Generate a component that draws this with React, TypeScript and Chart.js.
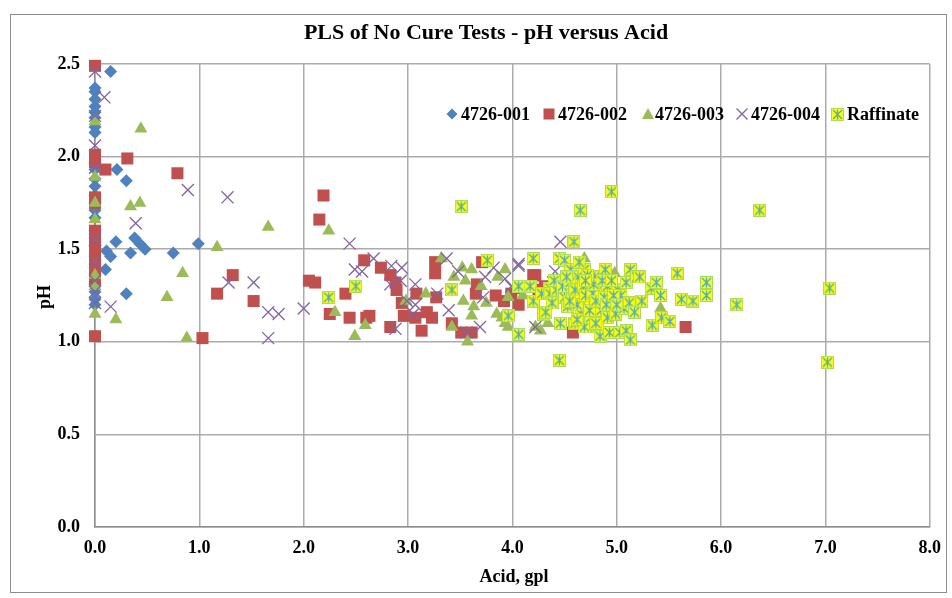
import React, { useEffect, useRef } from 'react';
import { Chart, registerables } from 'chart.js';

Chart.register(...registerables);

// ---------- data ----------
const seriesNames = ['4726-001', '4726-002', '4726-003', '4726-004', 'Raffinate'];
const xTickValues = [0, 1, 2, 3, 4, 5, 6, 7, 8];
const yTickValues = [0, 0.5, 1, 1.5, 2, 2.5];

const acid001 = [0, 0, 0, 0, 0, 0, 0, 0, 0, 0, 0, 0, 0, 0, 0, 0, 0, 0, 0, 0, 0, 0, 0, 0, 0, 0,
  0.15, 0.21, 0.3, 0.2, 0.11, 0.15, 0.1, 0.34, 0.38, 0.43, 0.48, 0.3, 0.75, 0.99];
const ph001 = [2.37, 2.35, 2.31, 2.27, 2.24, 2.21, 2.16, 2.13, 1.96, 1.93, 1.88, 1.84, 1.79, 1.75, 1.71, 1.67, 1.6, 1.56, 1.52, 1.47, 1.42, 1.37, 1.31, 1.27, 1.23, 1.2,
  2.46, 1.93, 1.87, 1.54, 1.49, 1.46, 1.39, 1.48, 1.56, 1.53, 1.5, 1.26, 1.48, 1.53];

const acid002 = [0, 0, 0, 0, 0, 0, 0, 0, 0, 0, 0, 0, 0,
  0.1, 0.31, 0.79, 1.03, 1.17, 1.32, 1.52,
  2.05, 2.11, 2.15, 2.19, 2.25, 2.4, 2.44, 2.58, 2.6, 2.63, 2.74, 2.83, 2.83, 2.88, 2.89, 2.94, 2.96, 3.07, 3.08, 3.13, 3.18, 3.23, 3.26, 3.26, 3.27, 3.42, 3.51, 3.61, 3.65, 3.66, 3.71, 3.84, 3.92, 3.99, 4.06, 4.06, 4.18, 4.2, 4.22, 4.25, 4.31, 4.42, 4.58, 5.66];
const ph002 = [2.49, 2.01, 1.97, 1.78, 1.75, 1.6, 1.56, 1.5, 1.46, 1.42, 1.38, 1.34, 1.03,
  1.93, 1.99, 1.91, 1.02, 1.26, 1.36, 1.22,
  1.33, 1.32, 1.66, 1.79, 1.15, 1.26, 1.13, 1.44, 1.13, 1.14, 1.4, 1.36, 1.08, 1.32, 1.28, 1.21, 1.14, 1.13, 1.26, 1.06, 1.16, 1.13, 1.43, 1.37, 1.24, 1.1, 1.05, 1.05, 1.26, 1.31, 1.43, 1.25, 1.22, 1.26, 1.29, 1.2, 1.3, 1.36, 1.36, 1.28, 1.3, 1.33, 1.05, 1.08];

const acid003 = [0, 0, 0, 0, 0, 0, 0, 0.44, 0.34, 0.43, 0.2, 0.69, 0.84, 0.88, 1.17, 1.66, 2.24, 2.3, 2.49, 2.59,
  2.98, 3.17, 3.32, 3.44, 3.52, 3.61, 3.42, 3.53, 3.57, 3.63, 3.61, 3.75, 3.85, 3.86, 3.93, 3.96, 3.96, 4.22, 4.27, 4.34, 4.69, 4.98, 5.42, 3.93, 3.9, 3.7, 3.55, 4.1];
const ph003 = [2.19, 1.89, 1.75, 1.66, 1.36, 1.3, 1.15, 2.15, 1.73, 1.75, 1.12, 1.24, 1.37, 1.02, 1.51, 1.62, 1.6, 1.16, 1.03, 1.09,
  1.22, 1.26, 1.45, 1.35, 1.4, 1.39, 1.08, 1.22, 1.0, 1.19, 1.14, 1.21, 1.15, 1.35, 1.39, 1.08, 1.24, 1.08, 1.06, 1.1, 1.45, 1.37, 1.18, 1.1, 1.13, 1.3, 1.33, 1.25];

const acid004 = [0, 0, 0, 0, 0, 0, 0, 0, 0, 0.09, 0.15, 0.39, 0.89, 1.27, 1.28, 1.52, 1.66, 1.76, 1.66, 2.0,
  2.44, 2.49, 2.56, 2.67, 2.84, 2.94, 2.83, 2.93, 3.07, 2.99, 3.07, 2.88, 3.05, 3.28, 3.37, 3.39, 3.48, 3.56, 3.69, 3.74, 3.82, 3.93, 4.06, 3.72, 3.99, 4.22, 4.46, 4.06, 4.41, 4.39];
const ph004 = [2.46, 2.22, 2.06, 1.94, 1.55, 1.43, 1.33, 1.27, 1.21, 2.32, 1.19, 1.64, 1.82, 1.78, 1.32, 1.32, 1.16, 1.15, 1.02, 1.18,
  1.53, 1.39, 1.38, 1.45, 1.41, 1.4, 1.31, 1.33, 1.31, 1.22, 1.2, 1.07, 1.15, 1.26, 1.45, 1.17, 1.38, 1.05, 1.08, 1.35, 1.4, 1.34, 1.41, 1.24, 1.3, 1.08, 1.54, 1.42, 1.38, 1.32];

const acidRaff = [2.24, 2.5, 3.42, 3.51, 3.76, 3.96, 4.06, 4.06, 4.17, 4.2, 4.2, 4.28, 4.3, 4.32, 4.36, 4.36, 4.42, 4.45, 4.45, 4.46,
  4.5, 4.5, 4.53, 4.56, 4.58, 4.59, 4.6, 4.63, 4.65, 4.66, 4.66, 4.69, 4.69, 4.72, 4.75, 4.75, 4.79, 4.82, 4.82, 4.84,
  4.85, 4.89, 4.91, 4.91, 4.93, 4.95, 4.99, 5.01, 5.03, 5.04, 5.07, 5.09, 5.09, 5.12, 5.13, 5.13, 5.17, 5.19, 5.22, 5.24,
  5.33, 5.34, 5.38, 5.42, 5.43, 5.51, 5.58, 5.62, 5.73, 5.86, 5.86, 6.15, 6.37, 7.04, 7.02,
  4.4, 4.48, 4.55, 4.6, 4.62, 4.68, 4.7, 4.72, 4.74, 4.77, 4.78, 4.8, 4.86, 4.88, 4.9, 4.95, 4.97, 5.0, 4.55, 4.52,
  4.64, 4.7, 4.38, 4.62, 4.8];
const phRaff = [1.24, 1.3, 1.28, 1.73, 1.44, 1.14, 1.04, 1.3, 1.3, 1.45, 1.22, 1.26, 1.15, 1.16, 1.29, 1.26, 1.28, 0.9, 1.45, 1.1,
  1.44, 1.24, 1.19, 1.39, 1.26, 1.54, 1.1, 1.35, 1.71, 1.24, 1.15, 1.39, 1.08, 1.3, 1.21, 1.13, 1.35, 1.28, 1.08, 1.03,
  1.17, 1.39, 1.3, 1.13, 1.05, 1.81, 1.15, 1.28, 1.05, 1.25, 1.18, 1.32, 1.06, 1.21, 1.39, 1.01, 1.16, 1.35, 1.35, 1.22,
  1.29, 1.09, 1.32, 1.25, 1.13, 1.11, 1.37, 1.23, 1.22, 1.32, 1.25, 1.2, 1.71, 1.29, 0.89,
  1.33, 1.3, 1.32, 1.28, 1.2, 1.3, 1.25, 1.36, 1.17, 1.26, 1.31, 1.22, 1.33, 1.24, 1.2, 1.33, 1.25, 1.2, 1.22, 1.35,
  1.43, 1.33, 1.21, 1.12, 1.1];

const COLORS = ['#4F81BD', '#C0504D', '#9BBB59', '#8064A2', '#FFFF00'];
const STAR_COLOR = '#4BACC6';
const FONT = '"Liberation Serif", "Times New Roman", serif';

function pts(xs: number[], ys: number[]) {
  return xs.map((x, i) => ({ x, y: ys[i] }));
}

function makeRaffMarker(size: number): HTMLCanvasElement {
  const c = document.createElement('canvas');
  c.width = size;
  c.height = size;
  const g = c.getContext('2d')!;
  g.fillStyle = '#FFFF00';
  g.fillRect(0, 0, size, size);
  g.strokeStyle = 'rgba(75,172,198,0.45)';
  g.lineWidth = 1;
  g.strokeRect(0.5, 0.5, size - 1, size - 1);
  g.strokeStyle = STAR_COLOR;
  g.lineWidth = 1.3;
  const m = size / 2;
  g.beginPath();
  g.moveTo(m, 1.5); g.lineTo(m, size - 1.5);
  g.moveTo(2, 2); g.lineTo(size - 2, size - 2);
  g.moveTo(size - 2, 2); g.lineTo(2, size - 2);
  g.stroke();
  return c;
}

export default function App() {
  const ref = useRef<HTMLCanvasElement>(null);

  useEffect(() => {
    const canvas = ref.current!;
    const raff = makeRaffMarker(13);

    const drawLegendMarker = (ctx: CanvasRenderingContext2D, i: number, x: number, y: number) => {
      ctx.save();
      if (i === 0) {
        ctx.fillStyle = COLORS[0];
        ctx.beginPath();
        ctx.moveTo(x, y - 5.5); ctx.lineTo(x + 5.5, y); ctx.lineTo(x, y + 5.5); ctx.lineTo(x - 5.5, y);
        ctx.closePath(); ctx.fill();
      } else if (i === 1) {
        ctx.fillStyle = COLORS[1];
        ctx.fillRect(x - 5.5, y - 5.5, 11, 11);
      } else if (i === 2) {
        ctx.fillStyle = COLORS[2];
        ctx.beginPath();
        ctx.moveTo(x, y - 6); ctx.lineTo(x + 6, y + 5); ctx.lineTo(x - 6, y + 5);
        ctx.closePath(); ctx.fill();
      } else if (i === 3) {
        ctx.strokeStyle = COLORS[3];
        ctx.lineWidth = 1.3;
        ctx.beginPath();
        ctx.moveTo(x - 5.5, y - 5.5); ctx.lineTo(x + 5.5, y + 5.5);
        ctx.moveTo(x + 5.5, y - 5.5); ctx.lineTo(x - 5.5, y + 5.5);
        ctx.stroke();
      } else {
        ctx.drawImage(raff, Math.round(x - 6.5), Math.round(y - 6.5));
      }
      ctx.restore();
    };

    const decor = {
      id: 'decor',
      afterDraw(chart: any) {
        const ctx: CanvasRenderingContext2D = chart.ctx;
        ctx.save();
        // outer chart border
        ctx.strokeStyle = '#8c8c8c';
        ctx.lineWidth = 1;
        ctx.strokeRect(10.5, 14.5, 936, 578);
        // title
        ctx.fillStyle = '#000';
        ctx.textAlign = 'center';
        ctx.textBaseline = 'middle';
        ctx.font = `bold 22px ${FONT}`;
        ctx.fillText('PLS of No Cure Tests - pH versus Acid', 486, 33);
        // axis titles
        ctx.font = `bold 18px ${FONT}`;
        ctx.fillText('Acid, gpl', 514, 577);
        ctx.save();
        ctx.translate(45, 297);
        ctx.rotate(-Math.PI / 2);
        ctx.fillText('pH', 0, 0);
        ctx.restore();
        // legend
        const markerX = [452, 549, 648, 742, 837];
        const textX = [461, 558, 655, 751, 847];
        const ly = 114;
        ctx.textAlign = 'left';
        ctx.font = `bold 18px ${FONT}`;
        for (let i = 0; i < seriesNames.length; i++) {
          drawLegendMarker(ctx, i, markerX[i], ly);
          ctx.fillStyle = '#000';
          ctx.fillText(seriesNames[i], textX[i], ly + 1);
        }
        ctx.restore();
      },
    };

    const tickFont = { family: FONT, size: 18, weight: 'bold' as const };

    const chart = new Chart(canvas, {
      type: 'scatter',
      data: {
        datasets: [
          {
            label: seriesNames[0], data: pts(acid001, ph001), order: 5, clip: false,
            pointStyle: 'rectRot', pointRadius: 6.5, backgroundColor: COLORS[0], borderColor: COLORS[0], borderWidth: 0,
          },
          {
            label: seriesNames[1], data: pts(acid002, ph002), order: 4, clip: false,
            pointStyle: 'rect', pointRadius: 8.5, backgroundColor: COLORS[1], borderColor: COLORS[1], borderWidth: 0,
          },
          {
            label: seriesNames[2], data: pts(acid003, ph003), order: 3, clip: false,
            pointStyle: 'triangle', pointRadius: 7.5, backgroundColor: COLORS[2], borderColor: COLORS[2], borderWidth: 0,
          },
          {
            label: seriesNames[3], data: pts(acid004, ph004), order: 2, clip: false,
            pointStyle: 'crossRot', pointRadius: 8.5, backgroundColor: COLORS[3], borderColor: COLORS[3], borderWidth: 1.3,
          },
          {
            label: seriesNames[4], data: pts(acidRaff, phRaff), order: 1, clip: false,
            pointStyle: raff as any, pointRadius: 6.5, backgroundColor: COLORS[4], borderColor: STAR_COLOR,
          },
        ] as any,
      },
      options: {
        responsive: false,
        animation: false,
        devicePixelRatio: 1,
        events: [],
        layout: { padding: { top: 64, right: 21, left: 0, bottom: 0 } },
        plugins: {
          legend: { display: false },
          title: { display: false },
          tooltip: { enabled: false },
        },
        scales: {
          x: {
            type: 'linear',
            min: 0,
            max: 8,
            afterBuildTicks: (scale: any) => { scale.ticks = xTickValues.map((v) => ({ value: v })); },
            ticks: {
              color: '#000',
              font: tickFont,
              padding: 11,
              maxRotation: 0,
              callback: (v: any) => Number(v).toFixed(1),
            },
            grid: { color: '#ababab', lineWidth: 1.5, drawTicks: false },
            border: { color: '#8f8f8f', width: 1.5 },
            afterFit: (scale: any) => { scale.height = 71; },
          },
          y: {
            type: 'linear',
            min: 0,
            max: 2.5,
            afterBuildTicks: (scale: any) => { scale.ticks = yTickValues.map((v) => ({ value: v })); },
            ticks: {
              color: '#000',
              font: tickFont,
              padding: 15,
              callback: (v: any) => Number(v).toFixed(1),
            },
            grid: { color: '#ababab', lineWidth: 1.5, drawTicks: false },
            border: { color: '#8f8f8f', width: 1.5 },
            afterFit: (scale: any) => { scale.width = 95; },
          },
        },
      } as any,
      plugins: [decor],
    });

    return () => chart.destroy();
  }, []);

  return (
    <div style={{ position: 'absolute', left: 0, top: 0, width: 952, height: 598, background: '#fff' }}>
      <canvas ref={ref} width={952} height={598} style={{ display: 'block', width: 952, height: 598 }} />
    </div>
  );
}
